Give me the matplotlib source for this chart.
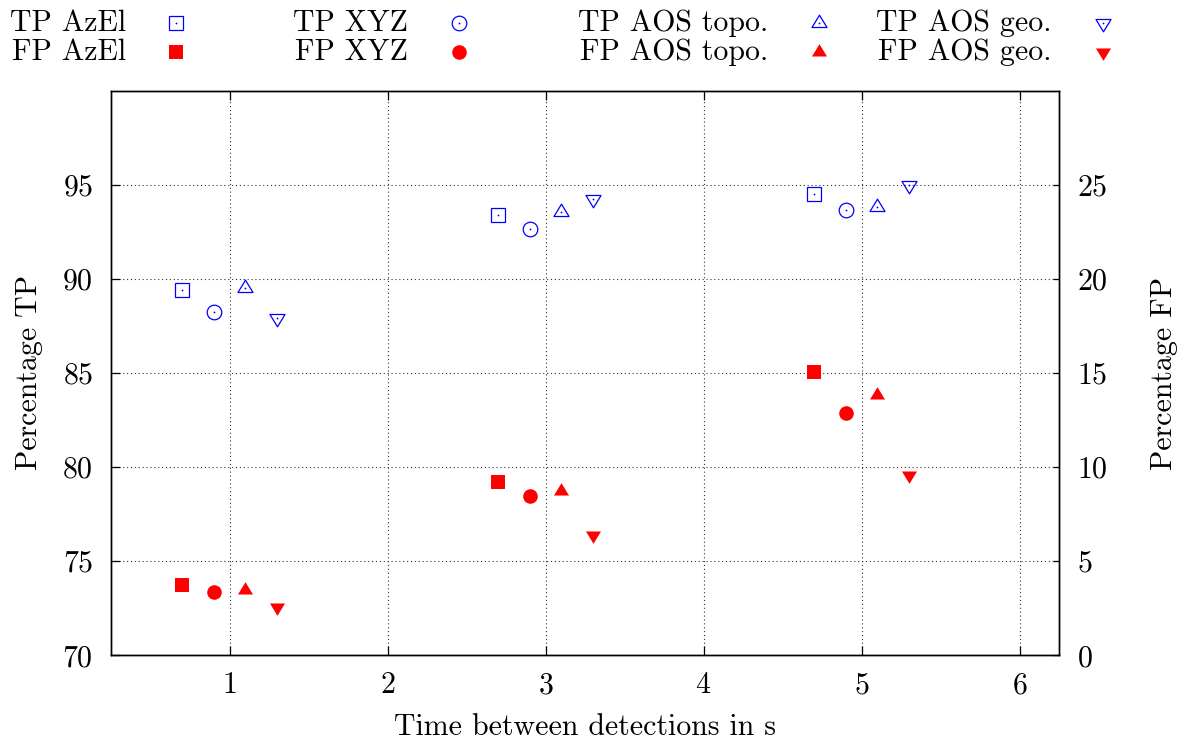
import numpy as np
import matplotlib
matplotlib.use('Agg')
import matplotlib.pyplot as plt
from matplotlib.lines import Line2D
from matplotlib.path import Path

plt.rcParams['font.family'] = 'cmr10'
plt.rcParams['mathtext.fontset'] = 'cm'
plt.rcParams['axes.formatter.use_mathtext'] = True

# data
time_s = [1, 3, 5]
methods = ['AzEl', 'XYZ', 'AOS topo.', 'AOS geo.']
tp_azel = [89.43, 93.41, 94.51]
tp_xyz = [88.25, 92.63, 93.64]
tp_topo = [89.50, 93.55, 93.82]
tp_geo = [87.91, 94.24, 95.00]
fp_azel = [3.75, 9.21, 15.04]
fp_xyz = [3.37, 8.48, 12.87]
fp_topo = [3.46, 8.72, 13.81]
fp_geo = [2.54, 6.40, 9.56]

tp_vals = [tp_azel, tp_xyz, tp_topo, tp_geo]
fp_vals = [fp_azel, fp_xyz, fp_topo, fp_geo]

# gnuplot-like triangles (point sits off the triangle centre)
tri_up = Path([(0, 8.3), (-7.5, -4), (7.5, -4), (0, 8.3)],
              [Path.MOVETO, Path.LINETO, Path.LINETO, Path.CLOSEPOLY])
tri_dn = Path([(0, -8.3), (-7.5, 4), (7.5, 4), (0, -8.3)],
              [Path.MOVETO, Path.LINETO, Path.LINETO, Path.CLOSEPOLY])
markers = ['s', 'o', tri_up, tri_dn]
msizes = [10.5, 10.5, 12, 12]
dodge = [-0.3, -0.1, 0.1, 0.3]
blue = '#0000ff'
red = '#ff0000'

fig = plt.figure(figsize=(11.89, 7.44), dpi=100)
ax = fig.add_axes([111 / 1189, 1 - 655.3 / 744, (1059 - 111) / 1189, (655.3 - 90.7) / 744])
ax2 = ax.twinx()

for i in range(4):
    xs = np.array(time_s) + dodge[i]
    ax.plot(xs, tp_vals[i], linestyle='none', marker=markers[i], ms=msizes[i],
            mfc='none', mec=blue, mew=0.9)
    ax.plot(xs, tp_vals[i], linestyle='none', marker='o', ms=1.3, mfc=blue, mec=blue, mew=0)
    ax2.plot(xs, fp_vals[i], linestyle='none', marker=markers[i], ms=msizes[i],
             mfc=red, mec=red, mew=0)

ax.set_xlim(0.25, 6.25)
ax.set_ylim(70, 100)
ax2.set_ylim(0, 30)
ax.set_xticks([1, 2, 3, 4, 5, 6])
ax.set_yticks([70, 75, 80, 85, 90, 95])
ax2.set_yticks([0, 5, 10, 15, 20, 25])

fs = 21.5
ax.tick_params(axis='x', direction='in', length=6.5, width=0.9, top=True, labelsize=fs, pad=12)
ax.tick_params(axis='y', direction='in', length=6.5, width=0.9, labelsize=fs, pad=13)
ax2.tick_params(axis='y', direction='in', length=4.5, width=0.9, labelsize=fs, pad=13)
ax.grid(True, linestyle=(0, (1, 2.5)), color='0.2', linewidth=0.8)
for a in (ax, ax2):
    for s in a.spines.values():
        s.set_linewidth(1.0)

ax.set_xlabel('Time between detections in s', fontsize=fs, labelpad=10)
ax.set_ylabel('Percentage TP', fontsize=fs, labelpad=14)
ax2.set_ylabel('Percentage FP', fontsize=fs, labelpad=31)

# key in two rows above the plot, text right-aligned before the symbol
text_right = [126, 408, 768, 1052]
mark_x = [176, 459, 819, 1103]
row_y = [23, 52]
for i, name in enumerate(methods):
    for r, (pref, face) in enumerate([('TP', 'none'), ('FP', red)]):
        y = 1 - row_y[r] / 744
        fig.text(text_right[i] / 1189, y, pref + ' ' + name, ha='right', va='center', fontsize=fs)
        col = blue if r == 0 else red
        fig.add_artist(Line2D([mark_x[i] / 1189], [y], transform=fig.transFigure,
                              linestyle='none', marker=markers[i], ms=msizes[i],
                              mfc=face, mec=col, mew=0.9 if r == 0 else 0))
        if r == 0:
            fig.add_artist(Line2D([mark_x[i] / 1189], [y], transform=fig.transFigure,
                                  linestyle='none', marker='o', ms=1.3, mfc=blue, mew=0))

fig.savefig('out.png', dpi=100)
